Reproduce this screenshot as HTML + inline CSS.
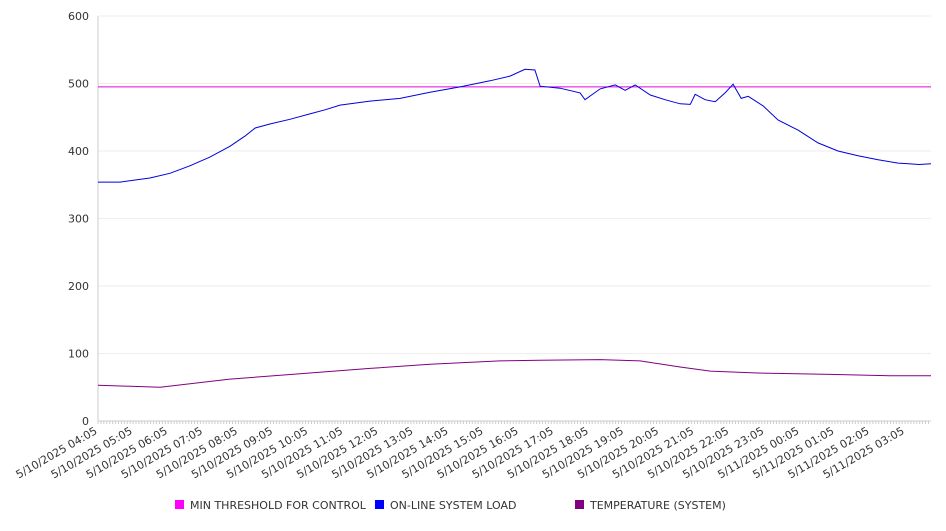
<!DOCTYPE html>
<html><head><meta charset="utf-8"><style>
body{margin:0;background:#fff;font-family:"Liberation Sans","DejaVu Sans",sans-serif;}
svg text{font-family:"DejaVu Sans","Liberation Sans",sans-serif;fill:#333;}
</style></head><body>
<svg id="chart" width="946" height="526"></svg>
<script>
const timeLabels=["5/10/2025 04:05","5/10/2025 05:05","5/10/2025 06:05","5/10/2025 07:05","5/10/2025 08:05","5/10/2025 09:05","5/10/2025 10:05","5/10/2025 11:05","5/10/2025 12:05","5/10/2025 13:05","5/10/2025 14:05","5/10/2025 15:05","5/10/2025 16:05","5/10/2025 17:05","5/10/2025 18:05","5/10/2025 19:05","5/10/2025 20:05","5/10/2025 21:05","5/10/2025 22:05","5/10/2025 23:05","5/11/2025 00:05","5/11/2025 01:05","5/11/2025 02:05","5/11/2025 03:05"];
const yTicks=[0,100,200,300,400,500,600];
const threshold=495;
const loadHours=[0,0.63,1.48,2.05,2.62,3.19,3.76,4.19,4.48,4.9,5.47,6.04,6.47,6.9,7.75,8.61,9.46,10.32,11.17,11.74,12.17,12.45,12.6,13.17,13.74,13.88,14.31,14.74,15.02,15.31,15.74,16.16,16.59,16.88,17.02,17.3,17.59,17.87,18.1,18.33,18.53,18.95,19.38,19.95,20.52,21.09,21.66,22.23,22.8,23.1,23.4,23.74];
const loadValues=[354,354,360,367,378,391,407,422,434,440,447,455,461,468,474,478,487,495,504,511,521,520,496,493,486,476,492,498,490,498,483,476,470,469,484,476,473,486,499,478,481,467,446,431,412,400,393,387,382,381,380,381];
const tempHours=[0,1.77,3.76,5.76,7.75,9.46,11.45,12.6,14.31,15.45,16.59,17.45,18.88,20.87,22.58,23.74];
const tempValues=[53,50,62,70,78,84,89,90,91,89,80,74,71,69,67,67];
const NS="http://www.w3.org/2000/svg";
const svg=document.getElementById('chart');
const X0=98,X1=931,Y0=421,Y1=16,HOURPX=35.09;
const xs=h=>X0+h*HOURPX;
const ys=v=>Y0-(v/600)*(Y0-Y1);
function mk(tag,attrs,parent){const e=document.createElementNS(NS,tag);for(const k in attrs)e.setAttribute(k,attrs[k]);(parent||svg).appendChild(e);return e;}
yTicks.forEach(t=>{
  const g=mk('line',{x1:X0,x2:X1,y1:ys(t),y2:ys(t),stroke:t===0?'#ccc':'#eee'});
  
  
  const tx=mk('text',{x:89,y:ys(t)+4,'text-anchor':'end','font-size':11});
  tx.textContent=t;
  
  
});
const ax=mk('line',{x1:X0,x2:X0,y1:Y1,y2:Y0,stroke:'#ccc'});


for(let h=0;h<=23.74;h+=1/12){
  const m=mk('line',{x1:xs(h),x2:xs(h),y1:Y0,y2:Y0+3,stroke:'#ccc'});
  
  
}
timeLabels.forEach((l,i)=>{
  const x=xs(i),y=Y0+12;
  const t=mk('text',{x:x,y:y,'text-anchor':'end','font-size':11,transform:`rotate(-30 ${x} ${y})`});
  t.textContent=l;
  
  
});
const th=mk('line',{x1:X0,x2:X1,y1:ys(threshold),y2:ys(threshold),stroke:'#e000e0','stroke-width':1});


function path(hs,vs,color,name){
  const d=hs.map((h,i)=>(i?'L':'M')+xs(h).toFixed(1)+','+ys(vs[i]).toFixed(1)).join(' ');
  const p=mk('path',{d:d,fill:'none',stroke:color,'stroke-width':1});
  
  
}
path(loadHours,loadValues,'#0000dd','online-system-load-line');
path(tempHours,tempValues,'#800080','temperature-line');
const legend=[["MIN THRESHOLD FOR CONTROL","#ff00ff",175],["ON-LINE SYSTEM LOAD","#0000ff",375],["TEMPERATURE (SYSTEM)","#800080",575]];
legend.forEach(([label,c,x])=>{
  const r=mk('rect',{x:x,y:500,width:9,height:9,fill:c});
  
  
  const t=mk('text',{x:x+15,y:509,'font-size':11});
  t.textContent=label;
  
  
});
</script>
</body></html>
